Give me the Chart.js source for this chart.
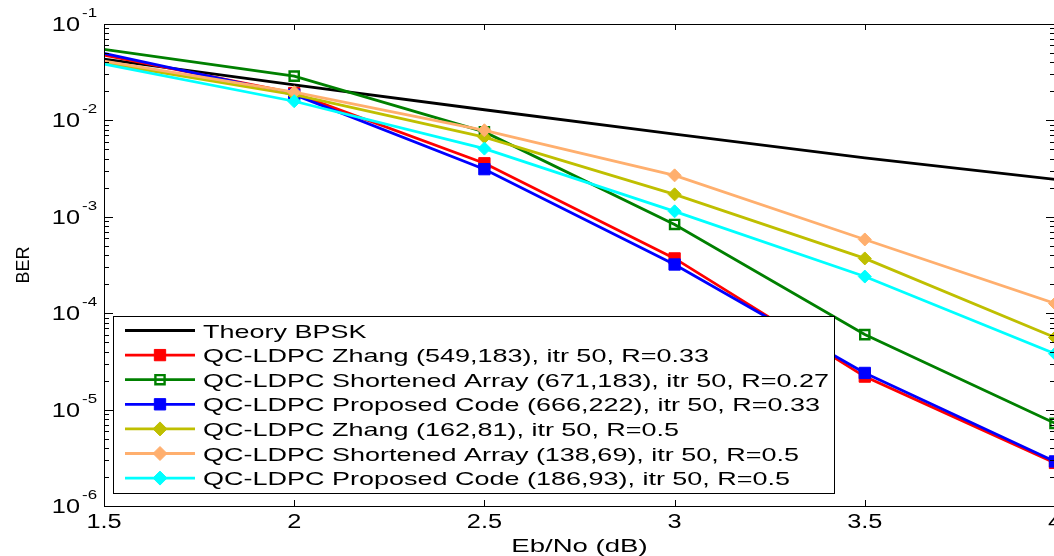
<!DOCTYPE html>
<html>
<head>
<meta charset="utf-8">
<script src="https://cdn.jsdelivr.net/npm/chart.js@4.4.1/dist/chart.umd.min.js"></script>
<style>
  html, body { margin: 0; padding: 0; background: #fff; overflow: hidden; }
  #wrap { width: 1054px; height: 556px; overflow: hidden; }
  canvas { display: block; }
</style>
</head>
<body>
<div id="wrap"><canvas id="ber" width="1080" height="556"></canvas></div>
<script>
// Eb/No sweep (dB)
const ebno = [1.5, 2, 2.5, 3, 3.5, 4];

// BER curves
const theoryBPSK   = [0.0433, 0.0234, 0.0129, 0.0072, 0.00408, 0.00245];
const zhang549     = [0.0476, 0.0192, 0.00359, 0.00037, 2.2e-5, 2.8e-6];
const shortened671 = [0.0546, 0.0288, 0.0076, 0.000833, 6.0e-5, 7.2e-6];
const proposed666  = [0.0496, 0.0185, 0.00312, 0.00032, 2.4e-5, 2.9e-6];
const zhang162     = [0.0394, 0.0185, 0.0067, 0.00171, 0.00037, 5.6e-5];
const shortened138 = [0.0413, 0.0196, 0.0079, 0.00269, 0.000582, 1.26e-4];
const proposed186  = [0.0384, 0.0158, 0.0051, 0.00114, 0.00024, 3.8e-5];

// Series labels
const seriesLabels = [
  'Theory BPSK',
  'QC-LDPC Zhang (549,183), itr 50, R=0.33',
  'QC-LDPC Shortened Array (671,183), itr 50, R=0.27',
  'QC-LDPC Proposed Code (666,222), itr 50, R=0.33',
  'QC-LDPC Zhang (162,81), itr 50, R=0.5',
  'QC-LDPC Shortened Array (138,69), itr 50, R=0.5',
  'QC-LDPC Proposed Code (186,93), itr 50, R=0.5'
];

// Axis ticks and labels
const xTicks = [1.5, 2, 2.5, 3, 3.5, 4];
const xTickLabels = ['1.5', '2', '2.5', '3', '3.5', '4'];
const yTickExponents = [-6, -5, -4, -3, -2, -1];
const xTitle = 'Eb/No (dB)';
const yTitle = 'BER';

const FONT = '"Liberation Sans", Arial, sans-serif';
const SX_TICK = 1.3;    // horizontal stretch of tick labels
const SX_LEGEND = 1.42; // horizontal stretch of legend entries
const SX_TITLE = 1.45;  // horizontal stretch of the x title

function drawStretched(ctx, str, x, y, size, align, sx) {
  ctx.save();
  ctx.font = size + 'px ' + FONT;
  const w = ctx.measureText(str).width * sx;
  const left = align === 'center' ? x - w / 2 : (align === 'right' ? x - w : x);
  ctx.translate(left, y);
  ctx.scale(sx, 1);
  ctx.textAlign = 'left';
  ctx.textBaseline = 'alphabetic';
  ctx.fillStyle = '#000';
  ctx.fillText(str, 0, 0);
  ctx.restore();
}

function pts(arr) { return arr.map((v, i) => ({ x: ebno[i], y: v })); }

function series(label, data, color, style, radius, filled, bw) {
  return {
    label: label,
    data: pts(data),
    borderColor: color,
    backgroundColor: filled ? color : 'rgba(0,0,0,0)',
    borderWidth: 2.8,
    pointStyle: style,
    pointRadius: (c) => (c.dataIndex === 0 || !style) ? 0 : radius,
    pointBorderColor: color,
    pointBackgroundColor: filled ? color : 'rgba(0,0,0,0)',
    pointBorderWidth: bw,
    pointHoverRadius: radius,
    tension: 0
  };
}

const datasets = [
  series(seriesLabels[0], theoryBPSK,   '#000000', false,     0,   true, 0),
  series(seriesLabels[1], zhang549,     '#FF0000', 'rect',    8,   true, 1),
  series(seriesLabels[2], shortened671, '#008000', 'rect',    6.5, false, 2.4),
  series(seriesLabels[3], proposed666,  '#0000FF', 'rect',    8,   true, 1),
  series(seriesLabels[4], zhang162,     '#BFBF00', 'rectRot', 6.5, true, 1),
  series(seriesLabels[5], shortened138, '#FFAF6E', 'rectRot', 6.5, true, 1),
  series(seriesLabels[6], proposed186,  '#00FFFF', 'rectRot', 6.5, true, 1)
];
// later series are painted on top
datasets.forEach((d, i) => { d.order = datasets.length - i; });

const frame = {
  id: 'frame',
  afterDatasetsDraw(chart) {
    const ctx = chart.ctx;
    const a = chart.chartArea;
    const xs = chart.scales.x, ys = chart.scales.y;
    ctx.save();
    ctx.strokeStyle = '#000';
    ctx.lineWidth = 1;
    // box
    ctx.strokeRect(Math.round(a.left) + 0.5, Math.round(a.top) + 0.5,
                   Math.round(a.right - a.left), Math.round(a.bottom - a.top));
    ctx.beginPath();
    // x ticks (inward, top and bottom)
    xTicks.forEach(v => {
      const px = Math.round(xs.getPixelForValue(v)) + 0.5;
      ctx.moveTo(px, a.bottom); ctx.lineTo(px, a.bottom - 6);
      ctx.moveTo(px, a.top); ctx.lineTo(px, a.top + 6);
    });
    // y ticks: decades long, 2..9 short
    yTickExponents.forEach(e => {
      for (let m = 1; m <= 9; m++) {
        const v = m * Math.pow(10, e);
        if (v > ys.max * 1.0001) continue;
        const py = Math.round(ys.getPixelForValue(v)) + 0.5;
        const len = m === 1 ? 9 : 5;
        ctx.moveTo(a.left, py); ctx.lineTo(a.left + len, py);
        ctx.moveTo(a.right, py); ctx.lineTo(a.right - len, py);
      }
    });
    ctx.stroke();
    ctx.restore();

    // x tick labels
    xTicks.forEach((v, i) => {
      drawStretched(ctx, xTickLabels[i], xs.getPixelForValue(v), a.bottom + 22, 19.5, 'center', SX_TICK);
    });
    // y tick labels 10^e
    yTickExponents.forEach(e => {
      const py = ys.getPixelForValue(Math.pow(10, e));
      drawStretched(ctx, '10', 80, py + 7, 19.5, 'right', SX_TICK);
      drawStretched(ctx, String(e), 82, py - 7, 13, 'left', SX_TICK);
    });
    // axis titles
    drawStretched(ctx, xTitle, (a.left + a.right) / 2, 552, 19, 'center', SX_TITLE);
    ctx.save();
    ctx.translate(29, 265);
    ctx.rotate(-Math.PI / 2);
    ctx.font = '18px ' + FONT;
    ctx.textAlign = 'center';
    ctx.textBaseline = 'alphabetic';
    ctx.fillStyle = '#000';
    ctx.fillText(yTitle, 0, 0);
    ctx.restore();

    // legend box
    const L = { left: 113, top: 316, right: 834, bottom: 493 };
    ctx.save();
    ctx.fillStyle = '#fff';
    ctx.fillRect(L.left, L.top, L.right - L.left, L.bottom - L.top);
    ctx.strokeStyle = '#000';
    ctx.lineWidth = 1;
    ctx.strokeRect(L.left + 0.5, L.top + 0.5, L.right - L.left, L.bottom - L.top);
    ctx.restore();
    chart.data.datasets.forEach((d, i) => {
      const cy = 330.5 + i * 24.6;
      ctx.save();
      ctx.strokeStyle = d.borderColor;
      ctx.lineWidth = d.borderWidth;
      ctx.beginPath();
      ctx.moveTo(125, cy); ctx.lineTo(195, cy);
      ctx.stroke();
      if (d.pointStyle) {
        ctx.fillStyle = d.pointBackgroundColor;
        ctx.strokeStyle = d.pointBorderColor;
        ctx.lineWidth = d.pointBorderWidth;
        Chart.helpers.drawPoint(ctx, {
          pointStyle: d.pointStyle,
          radius: d.pointStyle === 'rect' ? (d.pointBorderWidth > 1.5 ? 6.5 : 8) : 7,
          rotation: 0,
          borderWidth: d.pointBorderWidth
        }, 160, cy);
      }
      ctx.restore();
      drawStretched(ctx, d.label, 203, cy + 7, 19, 'left', SX_LEGEND);
    });
  }
};

new Chart(document.getElementById('ber'), {
  type: 'line',
  data: { datasets },
  options: {
    responsive: false,
    animation: false,
    layout: { padding: { left: 104, right: 25, top: 24, bottom: 50 } },
    plugins: { legend: { display: false }, tooltip: { enabled: false } },
    scales: {
      x: { type: 'linear', min: 1.5, max: 4, display: false },
      y: { type: 'logarithmic', min: 1e-6, max: 1e-1, display: false }
    }
  },
  plugins: [frame]
});
</script>
</body>
</html>
